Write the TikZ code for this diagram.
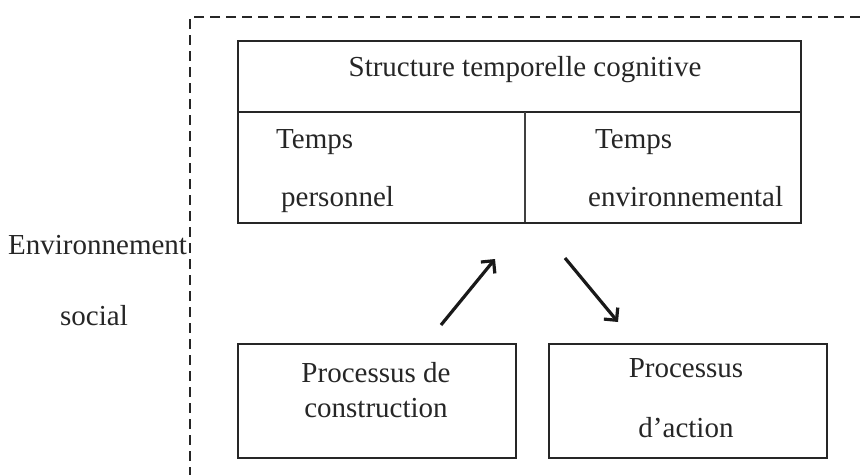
\documentclass[tikz,border=0pt]{standalone}
\usepackage{fontspec}
\setmainfont{Liberation Serif}
\usetikzlibrary{arrows.meta}
\begin{document}
\begin{tikzpicture}[x=1pt,y=-1pt,
  box/.style={draw=black!85,line width=1.6pt,inner sep=0pt},
  lbl/.style={inner sep=0pt,font=\fontsize{29}{31}\selectfont,text=black!85},
  frame/.style={draw=black!85,line width=1.5pt,dash pattern=on 10pt off 6pt},
  arr/.style={draw=black!90,line width=3.2pt,-{Straight Barb[length=9pt,width=18pt,line width=3.2pt]}}]
\useasboundingbox (0,0) rectangle (860,475);
% dashed frame
\coordinate (fr1) at (860,17);
\coordinate (fr2) at (190,17);
\coordinate (fr3) at (190,475);
\draw[frame] (fr1) -- (fr2) -- (fr3);
% top box
\node[box,anchor=north west,minimum width=563pt,minimum height=182pt] (top) at (237,40) {};
\coordinate (sepL) at (237,112);
\coordinate (sepR) at (800,112);
\coordinate (divT) at (525,112);
\coordinate (divB) at (525,222);
\draw[draw=black!85,line width=1.6pt] (sepL) -- (sepR);
\draw[draw=black!75,line width=1.4pt] (divT) -- (divB);
\node[lbl] (t1) at (525,70) {Structure temporelle cognitive};
\node[lbl,anchor=base west] (t2) at (276,148) {Temps};
\node[lbl,anchor=base west] (t3) at (281,206) {personnel};
\node[lbl,anchor=base west] (t4) at (595,148) {Temps};
\node[lbl,anchor=base west] (t5) at (588,206) {environnemental};
% left labels
\node[lbl,anchor=base west] (e1) at (8,254) {Environnement};
\node[lbl,anchor=base west] (e2) at (60,325) {social};
% bottom boxes
\node[box,anchor=north west,minimum width=278pt,minimum height=114pt] (pc) at (237,343) {};
\node[box,anchor=north west,minimum width=278pt,minimum height=114pt] (pa) at (548,343) {};
\node[lbl] (pc1) at (376,373) {Processus de};
\node[lbl] (pc2) at (376,408) {construction};
\node[lbl] (pa1) at (686,368) {Processus};
\node[lbl] (pa2) at (686,428) {d’action};
% arrows
\coordinate (a1s) at (441,325);
\coordinate (a1e) at (495,259);
\coordinate (a2s) at (565,258);
\coordinate (a2e) at (618,322);
\draw[arr] (a1s) -- (a1e);
\draw[arr] (a2s) -- (a2e);
\end{tikzpicture}
\end{document}
